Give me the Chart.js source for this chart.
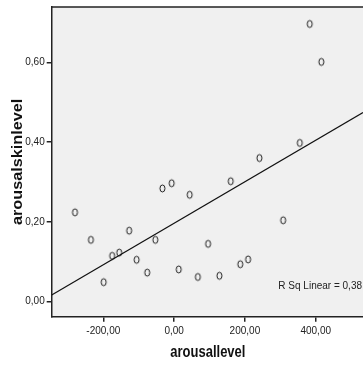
<!DOCTYPE html>
<html>
<head>
<meta charset="utf-8">
<script src="https://cdn.jsdelivr.net/npm/chart.js@4"></script>
<style>
html,body{margin:0;padding:0;background:#fff;overflow:hidden;}
#wrap{width:363px;height:369px;position:relative;overflow:hidden;}
</style>
</head>
<body>
<div id="wrap"><canvas id="c" width="368" height="369"></canvas></div>
<script>
// Data
const arousalLevel = [-280,-235,-199,-175,-155,-127,-106,-76,-53,-33,-7,13,44,67,96,128,160,187,209,241,308,355,383,416];
const arousalSkinLevel = [0.224,0.155,0.049,0.115,0.123,0.178,0.105,0.073,0.155,0.284,0.297,0.081,0.268,0.062,0.145,0.065,0.302,0.094,0.106,0.360,0.204,0.398,0.696,0.601];
// Fit line end points (R Sq Linear)
const fitX = [-345.8, 533.6];
const fitY = [0.017, 0.474];
const xTicks = [-200, 0, 200, 400];
const xTickLabels = ['-200,00','0,00','200,00','400,00'];
const yTicks = [0, 0.2, 0.4, 0.6];
const yTickLabels = ['0,00','0,20','0,40','0,60'];
const xTitle = 'arousallevel';
const yTitle = 'arousalskinlevel';
const rsqLabel = 'R Sq Linear = 0,38';

const FONT = '"Liberation Sans Narrow", "Liberation Sans", Arial, sans-serif';
const BOLD = '"Liberation Sans", Arial, sans-serif';

// open elliptical marker (reference markers are slightly taller than wide)
const marker = document.createElement('canvas');
marker.width = 9; marker.height = 11;
(function(){
  const m = marker.getContext('2d');
  m.strokeStyle = '#1a1a1a';
  m.lineWidth = 1;
  m.beginPath();
  m.ellipse(4.5, 5.5, 2.5, 3.5, 0, 0, Math.PI * 2);
  m.stroke();
})();

const bgPlugin = {
  id: 'bg',
  beforeDraw(chart) {
    const {ctx, chartArea: a} = chart;
    ctx.save();
    ctx.fillStyle = '#f0f0f0';
    ctx.fillRect(a.left, a.top, a.right - a.left + 2, a.bottom - a.top);
    ctx.restore();
  },
  afterDraw(chart) {
    const {ctx, chartArea: a} = chart;
    ctx.save();
    ctx.strokeStyle = '#222';
    ctx.lineWidth = 1.5;
    ctx.beginPath();
    ctx.moveTo(a.left, a.top);
    ctx.lineTo(a.right + 2, a.top);
    ctx.stroke();
    ctx.fillStyle = '#222';
    ctx.font = '10px ' + FONT;
    ctx.textAlign = 'right';
    ctx.textBaseline = 'middle';
    ctx.fillText(rsqLabel, 362, 286);
    // axis titles (slightly stretched like the reference)
    ctx.fillStyle = '#111';
    ctx.font = 'bold 13px ' + BOLD;
    ctx.textAlign = 'center';
    ctx.textBaseline = 'middle';
    ctx.save();
    ctx.translate((a.left + 364) / 2, 353);
    ctx.scale(1, 1.2);
    ctx.fillText(xTitle, 0, 0);
    ctx.restore();
    ctx.save();
    ctx.translate(18, (a.top + a.bottom) / 2);
    ctx.rotate(-Math.PI / 2);
    ctx.scale(1.25, 1.08);
    ctx.fillText(yTitle, 0, 0);
    ctx.restore();
    ctx.restore();
  }
};

new Chart(document.getElementById('c'), {
  type: 'scatter',
  data: {
    datasets: [
      {
        data: arousalLevel.map((x, i) => ({x, y: arousalSkinLevel[i]})),
        pointStyle: marker,
        pointRadius: 4,
        showLine: false
      },
      {
        data: fitX.map((x, i) => ({x, y: fitY[i]})),
        showLine: true,
        borderColor: '#111',
        borderWidth: 1.2,
        pointRadius: 0,
        fill: false
      }
    ]
  },
  options: {
    responsive: false,
    animation: false,
    devicePixelRatio: 1,
    layout: {padding: {top: 7, right: 0, left: 0, bottom: 0}},
    plugins: {legend: {display: false}, tooltip: {enabled: false}},
    scales: {
      x: {
        type: 'linear',
        min: fitX[0],
        max: fitX[1],
        afterFit(s) { s.height = 52.3; s.paddingLeft = 0; s.paddingRight = 0; },
        afterBuildTicks(s) { s.ticks = xTicks.map(v => ({value: v})); },
        ticks: {
          color: '#222',
          font: {family: FONT, size: 10},
          padding: 4,
          maxRotation: 0,
          callback: (v) => xTickLabels[xTicks.indexOf(v)]
        },
        grid: {drawOnChartArea: false, drawTicks: true, tickLength: 5, color: '#222', lineWidth: 1.5},
        border: {display: true, color: '#222', width: 1.5},
        title: {display: false}
      },
      y: {
        type: 'linear',
        min: -0.0376,
        max: 0.7386,
        afterFit(s) { s.width = 51.7; s.paddingTop = 0; s.paddingBottom = 0; },
        afterBuildTicks(s) { s.ticks = yTicks.map(v => ({value: v})); },
        ticks: {
          color: '#222',
          font: {family: FONT, size: 10},
          padding: 2,
          callback: (v) => yTickLabels[yTicks.indexOf(v)]
        },
        grid: {drawOnChartArea: false, drawTicks: true, tickLength: 5, color: '#222', lineWidth: 1.5},
        border: {display: true, color: '#222', width: 1.5},
        title: {display: false}
      }
    }
  },
  plugins: [bgPlugin]
});
</script>
</body>
</html>
